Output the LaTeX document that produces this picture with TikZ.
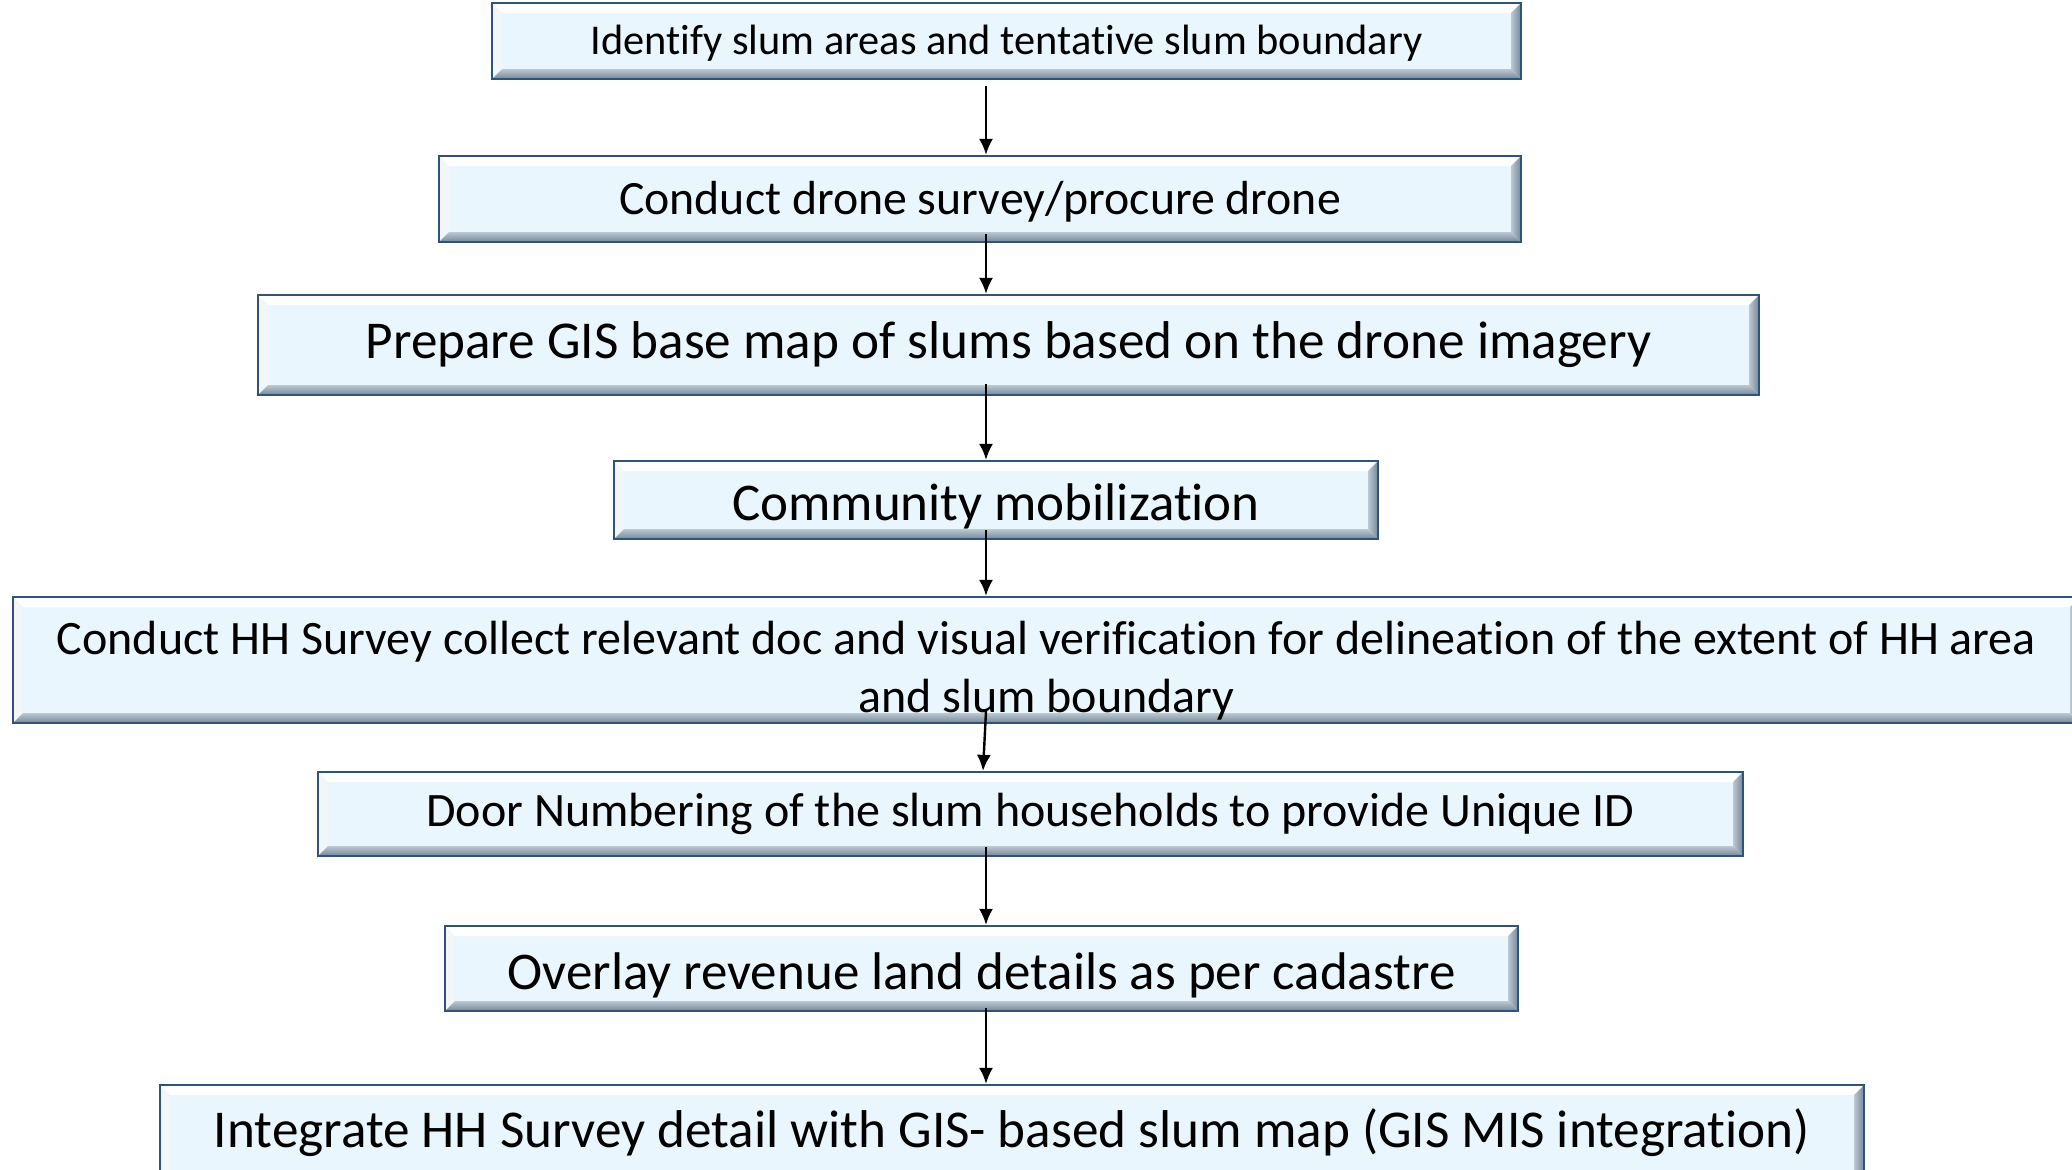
\documentclass[tikz,border=0pt]{standalone}
\usepackage{fontspec}
\setmainfont[RawFeature={-liga;-clig;-dlig;-calt}]{Carlito}
\usetikzlibrary{arrows.meta,calc}

\definecolor{boxfill}{HTML}{EAF6FD}
\definecolor{boxline}{HTML}{2F5478}
\definecolor{bevdark}{HTML}{74879A}
\definecolor{bevmid}{HTML}{BCC8D2}
\definecolor{bevlight}{HTML}{F2F6F8}

\tikzset{
  stepbox/.style={draw=boxline, line width=1.1pt, fill=boxfill, inner sep=0pt,
    align=center, text=black,
    path picture={
      \coordinate (pnw) at (path picture bounding box.north west);
      \coordinate (pne) at (path picture bounding box.north east);
      \coordinate (psw) at (path picture bounding box.south west);
      \coordinate (pse) at (path picture bounding box.south east);
      \fill[white] (pnw) -- (pne) -- ($(pne)+(-5pt,-5pt)$) -- ($(pnw)+(5pt,-5pt)$) -- cycle;
      \fill[bevlight] (pnw) -- (psw) -- ($(psw)+(5pt,5pt)$) -- ($(pnw)+(5pt,-5pt)$) -- cycle;
      \shade[top color=bevmid, bottom color=bevdark] (psw) -- (pse) -- ($(pse)+(-5pt,5pt)$) -- ($(psw)+(5pt,5pt)$) -- cycle;
      \shade[left color=bevmid, right color=bevdark] (pne) -- (pse) -- ($(pse)+(-5pt,5pt)$) -- ($(pne)+(-5pt,-5pt)$) -- cycle;
    }},
  arr/.style={line width=1.2pt, -{Latex[length=8pt,width=7pt]}},
}

\begin{document}
\begin{tikzpicture}[x=0.5pt,y=-0.5pt]
\useasboundingbox (0,0) rectangle (2072,1169);
\clip (0,0) rectangle (2072,1169);

\node[stepbox, minimum width=514.5pt, minimum height=38pt,
  font=\fontsize{21.2}{25}\selectfont] (b1) at (1006.5,41)
  {\rule{0pt}{17.4pt}Identify slum areas and tentative slum boundary};
\node[stepbox, minimum width=541pt, minimum height=43pt,
  font=\fontsize{23.9}{28}\selectfont] (b2) at (980,199)
  {\rule{0pt}{19.8pt}Conduct drone survey/procure drone};
\node[stepbox, minimum width=750.5pt, minimum height=50pt,
  font=\fontsize{26.6}{31}\selectfont] (b3) at (1008.5,345)
  {Prepare GIS base map of slums based on the drone imagery};
\node[stepbox, minimum width=382pt, minimum height=39pt,
  font=\fontsize{26.5}{31}\selectfont] (b4) at (996,500)
  {\rule{0pt}{25.2pt}Community mobilization};
\node[stepbox, minimum width=1033.5pt, minimum height=63pt,
  font=\fontsize{24}{29}\selectfont] (b5) at (1046.5,660)
  {\rule{0pt}{27.4pt}Conduct HH Survey collect relevant doc and visual verification for delineation of the extent of HH area\\and slum boundary};
\node[stepbox, minimum width=712.5pt, minimum height=42pt,
  font=\fontsize{24}{29}\selectfont] (b6) at (1030.5,814)
  {Door Numbering of the slum households to provide Unique ID};
\node[stepbox, minimum width=536.5pt, minimum height=42.5pt,
  font=\fontsize{26.5}{31}\selectfont] (b7) at (981.5,968.5)
  {\rule{0pt}{25.2pt}Overlay revenue land details as per cadastre};
\node[stepbox, minimum width=852pt, minimum height=47.5pt,
  font=\fontsize{26.6}{31}\selectfont] (b8) at (1012,1132.5)
  {Integrate HH Survey detail with GIS- based slum map (GIS MIS integration)};

\coordinate (ax) at (986,0);
\draw[arr] ($(b1.south -| ax)+(0,6)$) -- (b2.north -| ax);
\draw[arr] ($(b2.south -| ax)+(0,-9)$) -- (b3.north -| ax);
\draw[arr] ($(b3.south -| ax)+(0,-12)$) -- (b4.north -| ax);
\draw[arr] ($(b4.south -| ax)+(0,-10)$) -- (b5.north -| ax);
\draw[arr] ($(b5.south -| ax)+(0,-13)$) -- ($(b6.north -| ax)+(-3,0)$);
\draw[arr] ($(b6.south -| ax)+(0,-10)$) -- (b7.north -| ax);
\draw[arr] ($(b7.south -| ax)+(0,-4)$) -- (b8.north -| ax);
\end{tikzpicture}
\end{document}
